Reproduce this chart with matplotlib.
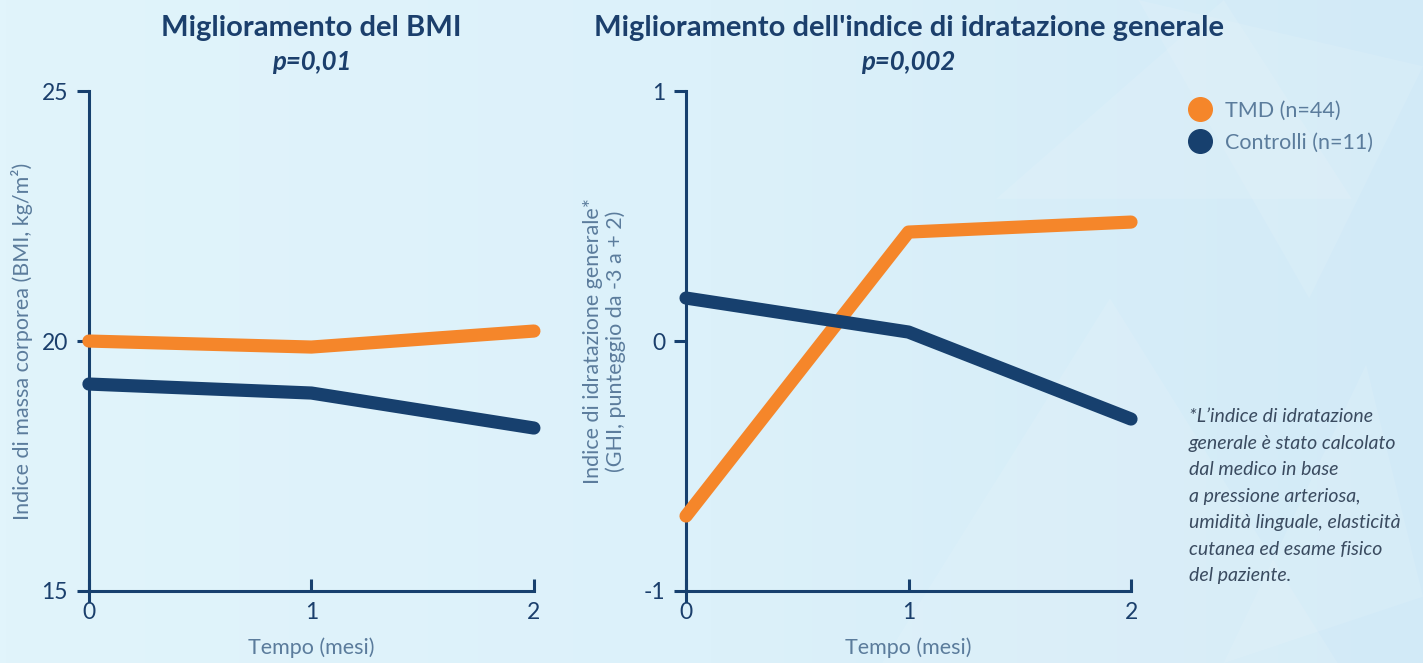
"""Andamento di BMI e indice di idratazione nei gruppi TMD e Controlli."""
import numpy as np
import matplotlib.pyplot as plt
from matplotlib.colors import LinearSegmentedColormap
from matplotlib.lines import Line2D
from matplotlib.patches import Polygon

plt.rcParams['font.family'] = ['Lato', 'DejaVu Sans']
plt.rcParams['axes.unicode_minus'] = False

# Dati
mesi = [0, 1, 2]
bmi_tmd = [20.0, 19.88, 20.2]
bmi_controlli = [19.14, 18.96, 18.26]
ghi_tmd = [-0.70, 0.436, 0.476]
ghi_controlli = [0.172, 0.036, -0.312]

gruppi = ['TMD (n=44)', 'Controlli (n=11)']

ARANCIO = '#f5862a'
BLU = '#17406e'
BLU_TESTO = '#1b3f6c'
GRIGIO_ETICHETTA = '#5b7c9c'

fig = plt.figure(figsize=(14.23, 6.63), dpi=100)

# Sfondo sfumato con qualche triangolo chiaro
sfondo = fig.add_axes([0, 0, 1, 1], zorder=-10)
gradiente = np.linspace(0, 1, 256)[None, :]
sfondo.imshow(gradiente, extent=[0, 1, 0, 1], aspect='auto',
              cmap=LinearSegmentedColormap.from_list(
                  'bg', ['#e1f4fb', '#dcf1fa', '#d2eaf7']))
for verts in ([(0.62, 0), (0.78, 0.55), (0.94, 0)],
              [(0.80, 1), (0.92, 0.55), (1.0, 0.9)],
              [(0.70, 0.7), (0.86, 1), (0.95, 0.7)],
              [(0.86, 0.0), (0.96, 0.45), (1.0, 0.1)]):
    sfondo.add_patch(Polygon(verts, closed=True, color='white', alpha=0.1, lw=0))
sfondo.set_xlim(0, 1)
sfondo.set_ylim(0, 1)
sfondo.axis('off')

ax1 = fig.add_axes([0.0625, 0.1086, 0.3127, 0.754])
ax2 = fig.add_axes([0.4821, 0.1086, 0.3127, 0.754])


def stile_assi(ax, ylim, yticks, spine_low):
    ax.set_facecolor('none')
    for lato in ('top', 'right'):
        ax.spines[lato].set_visible(False)
    for lato in ('left', 'bottom'):
        ax.spines[lato].set_color(BLU)
        ax.spines[lato].set_linewidth(2.2)
    ax.set_xlim(0, 2)
    ax.set_ylim(*ylim)
    ax.spines['left'].set_bounds(spine_low, ylim[1])
    ax.set_xticks(mesi)
    ax.set_yticks(yticks)
    ax.tick_params(axis='y', direction='out', length=9, width=2.2,
                   color=BLU, labelcolor=BLU_TESTO, labelsize=16.5, pad=6)
    ax.tick_params(axis='x', direction='in', length=9, width=2.2,
                   color=BLU, labelcolor=BLU_TESTO, labelsize=16.5, pad=8)
    ax.set_xlabel('Tempo (mesi)', fontsize=15.5, color=GRIGIO_ETICHETTA,
                  labelpad=10)


def disegna(ax, tmd, controlli):
    ax.plot(mesi, tmd, color=ARANCIO, lw=9.5, solid_capstyle='round',
            solid_joinstyle='round', clip_on=False, zorder=3)
    ax.plot(mesi, controlli, color=BLU, lw=9.5, solid_capstyle='round',
            solid_joinstyle='round', clip_on=False, zorder=3)


# Pannello BMI
disegna(ax1, bmi_tmd, bmi_controlli)
stile_assi(ax1, (15, 25), [15, 20, 25], 14.8)
ax1.set_ylabel('Indice di massa corporea (BMI, kg/m²)', fontsize=15.5,
               color=GRIGIO_ETICHETTA, labelpad=6)
ax1.text(0.5, 1.126, 'Miglioramento del BMI', transform=ax1.transAxes,
         ha='center', va='center', fontsize=21, fontweight='bold', color=BLU_TESTO)
ax1.text(0.5, 1.058, 'p=0,01', transform=ax1.transAxes, ha='center',
         va='center', fontsize=18.5, fontweight='bold', style='italic', color=BLU_TESTO)

# Pannello indice di idratazione
disegna(ax2, ghi_tmd, ghi_controlli)
stile_assi(ax2, (-1, 1), [-1, 0, 1], -1.04)
ax2.set_ylabel('Indice di idratazione generale*\n(GHI, punteggio da -3 a + 2)',
               fontsize=15.5, color=GRIGIO_ETICHETTA,
               labelpad=13, linespacing=1.12)
ax2.text(0.5, 1.126, "Miglioramento dell'indice di idratazione generale",
         transform=ax2.transAxes, ha='center', va='center', fontsize=21,
         fontweight='bold', color=BLU_TESTO)
ax2.text(0.5, 1.058, 'p=0,002', transform=ax2.transAxes, ha='center',
         va='center', fontsize=18.5, fontweight='bold', style='italic', color=BLU_TESTO)

# Legenda
maniglie = [Line2D([], [], ls='none', marker='o', markersize=17,
                   color=c) for c in (ARANCIO, BLU)]
fig.legend(maniglie, gruppi, loc='upper left',
           bbox_to_anchor=(1170 / 1423, 1 - 92 / 663), frameon=False,
           fontsize=15.5, labelcolor=GRIGIO_ETICHETTA, handletextpad=0.15,
           labelspacing=0.55, borderaxespad=0)

# Nota a piè di pagina
nota = ("*L’indice di idratazione\n"
        "generale è stato calcolato\n"
        "dal medico in base\n"
        "a pressione arteriosa,\n"
        "umidità linguale, elasticità\n"
        "cutanea ed esame fisico\n"
        "del paziente.")
fig.text(1189 / 1423, 1 - 408 / 663, nota, ha='left', va='top', fontsize=14,
         style='italic', color='#3a4b60', linespacing=1.68)

fig.savefig('out.png', dpi=100)
